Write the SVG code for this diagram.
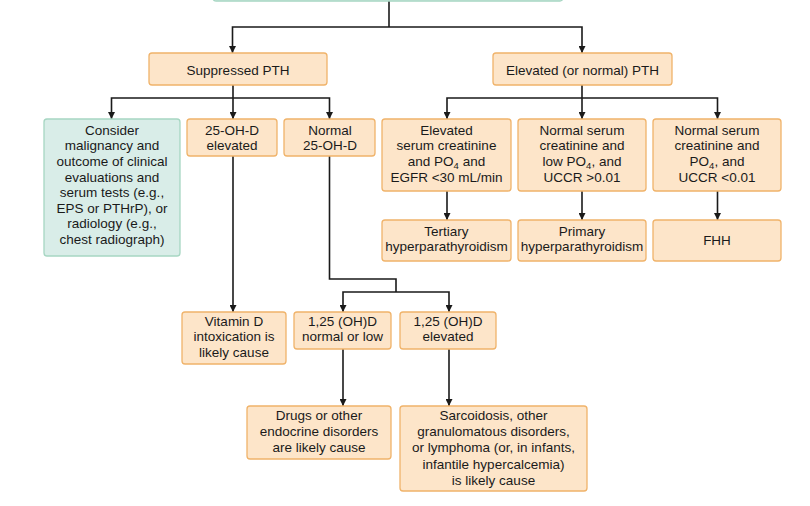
<svg xmlns="http://www.w3.org/2000/svg" width="810" height="506" viewBox="0 0 810 506">
<defs>
<marker id="ah" viewBox="0 0 10 10" refX="10" refY="5" markerWidth="7" markerHeight="7" markerUnits="userSpaceOnUse" orient="auto">
<path d="M0,0 L10,5 L0,10 Z" fill="#1a1a1a"/>
</marker>
<style>
.o{fill:#fde5c9;stroke:#f0b36a;stroke-width:1.3}
.g{fill:#d9ede8;stroke:#a6d6c2;stroke-width:1.3}
text{font-family:"Liberation Sans",Arial,sans-serif;font-size:13.5px;fill:#1a1a1a;text-anchor:middle}
.c{fill:none;stroke:#1a1a1a;stroke-width:1.6}
.a{marker-end:url(#ah)}
</style>
</defs>
<rect width="810" height="506" fill="#ffffff"/>
<g id="connectors">
<path class="c" d="M389,1 V27"/>
<path class="c a" d="M389,27 H232.5 V53"/>
<path class="c a" d="M389,27 H582 V53"/>
<path class="c" d="M233,85 V98"/>
<path class="c a" d="M233,98 H111.5 V119"/>
<path class="c a" d="M233,98 V119"/>
<path class="c a" d="M233,98 H329.5 V119"/>
<path class="c" d="M582,85 V98"/>
<path class="c a" d="M582,98 H447 V119"/>
<path class="c a" d="M582,98 V119"/>
<path class="c a" d="M582,98 H717.5 V119"/>
<path class="c a" d="M447,191 V220"/>
<path class="c a" d="M582,191 V220"/>
<path class="c a" d="M717.5,191 V220"/>
<path class="c a" d="M233,156 V312"/>
<path class="c" d="M329.5,156 V279 H396 V292"/>
<path class="c a" d="M396,292 H343 V312"/>
<path class="c a" d="M396,292 H449 V312"/>
<path class="c a" d="M343,349 V406"/>
<path class="c a" d="M449,349 V406"/>
</g>
<g id="top"><rect class="g" x="213" y="-20" width="350" height="21" rx="3"/></g>
<g id="suppressed"><rect class="o" x="149" y="53" width="178" height="32" rx="3"/><text x="238" y="74.5">Suppressed PTH</text></g>
<g id="elevated"><rect class="o" x="493" y="53" width="179" height="32" rx="3"/><text x="582.5" y="74.5">Elevated (or normal) PTH</text></g>
<g id="consider"><rect class="g" x="44" y="119" width="136" height="137" rx="3"/>
<text x="112"><tspan x="112" y="134.7">Consider</tspan><tspan x="112" y="150.3">malignancy and</tspan><tspan x="112" y="165.9">outcome of clinical</tspan><tspan x="112" y="181.5">evaluations and</tspan><tspan x="112" y="197.1">serum tests (e.g.,</tspan><tspan x="112" y="212.7">EPS or PTHrP), or</tspan><tspan x="112" y="228.3">radiology (e.g.,</tspan><tspan x="112" y="243.9">chest radiograph)</tspan></text></g>
<g id="ohd-elev"><rect class="o" x="187" y="119" width="90" height="37" rx="3"/>
<text><tspan x="232" y="134.7">25-OH-D</tspan><tspan x="232" y="150.3">elevated</tspan></text></g>
<g id="ohd-norm"><rect class="o" x="284" y="119" width="91" height="37" rx="3"/>
<text><tspan x="330" y="134.7">Normal</tspan><tspan x="330" y="150.3">25-OH-D</tspan></text></g>
<g id="elev-creat"><rect class="o" x="382" y="119" width="129" height="72" rx="3"/>
<text><tspan x="446.5" y="134.7">Elevated</tspan><tspan x="446.5" y="150.3">serum creatinine</tspan><tspan x="446.5" y="165.9">and PO<tspan font-size="9.5px" dy="3">4</tspan><tspan dy="-3"> and</tspan></tspan><tspan x="446.5" y="181.5">EGFR &lt;30 mL/min</tspan></text></g>
<g id="norm-low"><rect class="o" x="518" y="119" width="128" height="72" rx="3"/>
<text><tspan x="582" y="134.7">Normal serum</tspan><tspan x="582" y="150.3">creatinine and</tspan><tspan x="582" y="165.9">low PO<tspan font-size="9.5px" dy="3">4</tspan><tspan dy="-3">, and</tspan></tspan><tspan x="582" y="181.5">UCCR &gt;0.01</tspan></text></g>
<g id="norm-norm"><rect class="o" x="653" y="119" width="128" height="72" rx="3"/>
<text><tspan x="717" y="134.7">Normal serum</tspan><tspan x="717" y="150.3">creatinine and</tspan><tspan x="717" y="165.9">PO<tspan font-size="9.5px" dy="3">4</tspan><tspan dy="-3">, and</tspan></tspan><tspan x="717" y="181.5">UCCR &lt;0.01</tspan></text></g>
<g id="tertiary"><rect class="o" x="382" y="220" width="129" height="41" rx="3"/>
<text><tspan x="446.5" y="235.7">Tertiary</tspan><tspan x="446.5" y="251.3">hyperparathyroidism</tspan></text></g>
<g id="primary"><rect class="o" x="518" y="220" width="128" height="41" rx="3"/>
<text><tspan x="582" y="235.7">Primary</tspan><tspan x="582" y="251.3">hyperparathyroidism</tspan></text></g>
<g id="fhh"><rect class="o" x="653" y="220" width="128" height="41" rx="3"/>
<text x="717" y="244.7">FHH</text></g>
<g id="vitd"><rect class="o" x="182" y="312" width="104" height="52" rx="3"/>
<text><tspan x="234" y="325.7">Vitamin D</tspan><tspan x="234" y="341.3">intoxication is</tspan><tspan x="234" y="356.9">likely cause</tspan></text></g>
<g id="d125-low"><rect class="o" x="294" y="312" width="97" height="37" rx="3"/>
<text><tspan x="342.5" y="325.7">1,25 (OH)D</tspan><tspan x="342.5" y="341.3">normal or low</tspan></text></g>
<g id="d125-elev"><rect class="o" x="400" y="312" width="96" height="37" rx="3"/>
<text><tspan x="448" y="325.7">1,25 (OH)D</tspan><tspan x="448" y="341.3">elevated</tspan></text></g>
<g id="drugs"><rect class="o" x="247" y="406" width="144" height="53" rx="3"/>
<text><tspan x="319" y="420.4">Drugs or other</tspan><tspan x="319" y="436">endocrine disorders</tspan><tspan x="319" y="451.6">are likely cause</tspan></text></g>
<g id="sarcoid"><rect class="o" x="400" y="406" width="187" height="85" rx="3"/>
<text><tspan x="493.5" y="420">Sarcoidosis, other</tspan><tspan x="493.5" y="436">granulomatous disorders,</tspan><tspan x="493.5" y="452.3">or lymphoma (or, in infants,</tspan><tspan x="493.5" y="468.6">infantile hypercalcemia)</tspan><tspan x="493.5" y="484.9">is likely cause</tspan></text></g>
</svg>
